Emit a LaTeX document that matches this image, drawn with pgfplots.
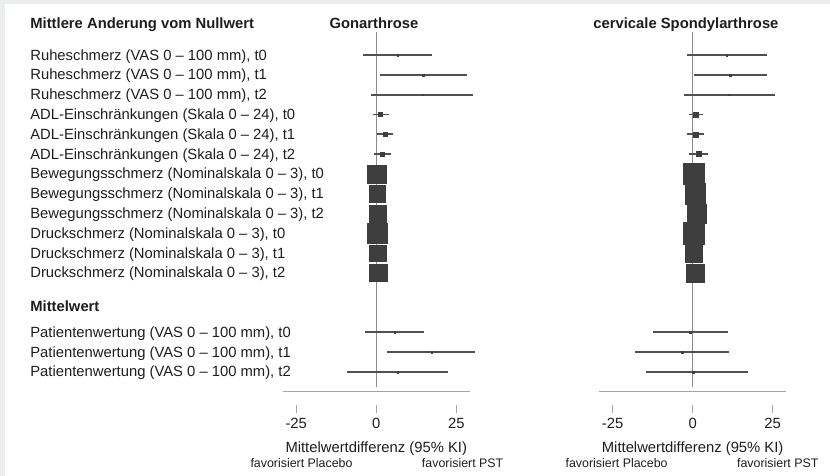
\documentclass[border=0pt]{standalone}
\usepackage{pgfplots}
\usepackage{pgfplotstable}
\pgfplotsset{compat=1.18}
\usepackage{fontspec}
\setmainfont{Liberation Sans}
\definecolor{bg}{RGB}{236,238,238}
\definecolor{txt}{RGB}{30,30,30}
\definecolor{boxc}{RGB}{62,62,62}
\definecolor{ci}{RGB}{80,80,80}
\definecolor{zl}{RGB}{140,140,140}
\definecolor{axl}{RGB}{165,165,165}

% y = -row, m = mean, lo/hi = 95% CI, s = half box size (pt)
\pgfplotstableread{
y    m     lo     hi    s
-1   6.7   -4.1   17.5  0.8
-2   14.7  1.1    28.5  0.8
-3   14.5  -1.5   30.1  0.8
-4   1.1   -1.1   4.1   2.0
-5   2.8   0.2    5.1   2.0
-6   2.0   -0.6   4.6   2.0
-7   0.15  -1.0   1.3   9.2
-8   0.36  -0.8   1.5   8.2
-9   0.5   -0.6   1.6   8.4
-10  0.3   -1.0   1.6   10.1
-11  0.47  -0.7   1.6   8.2
-12  0.6   -0.6   1.8   8.6
-15  5.8   -3.5   14.9  0.8
-16  17.3  3.4    30.8  0.8
-17  6.7   -9.1   22.5  0.8
}\lefttab
\pgfplotstableread{
y    m     lo     hi    s
-1   10.6  -1.9   23.1  0.8
-2   11.7  0.4    23.1  0.8
-3   11.5  -2.6   25.7  0.8
-4   0.9   -1.0   3.1   2.5
-5   0.8   -1.9   3.6   2.5
-6   1.9   -1.0   4.9   2.5
-7   0.36  -1.0   1.7   10.5
-8   0.73  -0.6   2.1   10.3
-9   1.15  -0.2   2.5   9.4
-10  0.36  -1.0   1.7   10.8
-11  0.31  -1.0   1.6   8.8
-12  0.89  -0.4   2.2   9.1
-15  -0.7  -12.4  10.9  0.8
-16  -3.2  -18.0  11.5  0.8
-17  0.2   -14.6  17.4  0.8
}\righttab

\newcommand{\mainfs}{\fontsize{14.8}{17}\selectfont}
\newcommand{\smallfs}{\fontsize{12.4}{14}\selectfont}

\pgfplotsset{
  forest/.style={
    scale only axis, width=187.52pt, height=376.2pt,
    xmin=-29.3, xmax=29.3, ymin=-18, ymax=1,
    anchor=south west, clip=false,
    axis line style={draw=none}, major tick style={draw=none},
    ytick=\empty, xtick={-25,0,25}, xticklabels={-25,0,25},
    xticklabel style={anchor=base, yshift=-36.3pt, font=\mainfs, text=txt},
  },
  zline/.style={draw=zl, line width=1pt},
  aline/.style={draw=axl, line width=1pt},
  tline/.style={draw=axl, line width=0.9pt},
  cibars/.style={draw=none, error bars/.cd, x dir=both, x explicit, error mark=none,
    error bar style={draw=ci, line width=1.9pt}},
  boxes/.style={scatter, only marks, mark=square*,
    scatter/use mapped color={draw=boxc, fill=boxc},
    visualization depends on={\thisrow{s} \as \msize},
    scatter/@pre marker code/.append style={/tikz/mark size=\msize, /tikz/line width=0.4pt}},
}

\begin{document}
\begin{tikzpicture}
\useasboundingbox (0,0) rectangle (830pt,-476pt);
\fill[bg] (0,0) rectangle (830pt,-476pt);
\fill[white] (5pt,-4pt) rectangle (830pt,-476pt);

% ---------- left panel: Gonarthrose ----------
\begin{axis}[forest, at={(282.5pt,-391.7pt)}]
\addplot[zline] coordinates {(0,0.16) (0,-17.75)};
\addplot[aline] coordinates {(-29.3,-18) (29.3,-18)};
\addplot[tline] coordinates {(-25,-18.68) (-25,-19.07)};
\addplot[tline] coordinates {(0,-18.68) (0,-19.07)};
\addplot[tline] coordinates {(25,-18.68) (25,-19.07)};
\addplot[cibars] table[x=m, y=y, x error plus expr={\thisrow{hi}-\thisrow{m}}, x error minus expr={\thisrow{m}-\thisrow{lo}}] {\lefttab};
\addplot[boxes] table[x=m, y=y] {\lefttab};

\node[anchor=base, font=\mainfs\bfseries, text=txt] at (axis cs:-0.7,0.35) {Gonarthrose};
\node[anchor=base west, font=\mainfs\bfseries, text=txt] at (axis cs:-109.2,0.35) {Mittlere Anderung vom Nullwert};
\node[anchor=base west, font=\mainfs\bfseries, text=txt] at (axis cs:-109.2,-13.96) {Mittelwert};
\begin{scope}[every node/.style={anchor=base west, font=\mainfs, text=txt}]
\node at (axis cs:-109.2,-1.25) {Ruheschmerz (VAS 0 – 100 mm), t0};
\node at (axis cs:-109.2,-2.25) {Ruheschmerz (VAS 0 – 100 mm), t1};
\node at (axis cs:-109.2,-3.25) {Ruheschmerz (VAS 0 – 100 mm), t2};
\node at (axis cs:-109.2,-4.25) {ADL-Einschränkungen (Skala 0 – 24), t0};
\node at (axis cs:-109.2,-5.25) {ADL-Einschränkungen (Skala 0 – 24), t1};
\node at (axis cs:-109.2,-6.25) {ADL-Einschränkungen (Skala 0 – 24), t2};
\node at (axis cs:-109.2,-7.25) {Bewegungsschmerz (Nominalskala 0 – 3), t0};
\node at (axis cs:-109.2,-8.25) {Bewegungsschmerz (Nominalskala 0 – 3), t1};
\node at (axis cs:-109.2,-9.25) {Bewegungsschmerz (Nominalskala 0 – 3), t2};
\node at (axis cs:-109.2,-10.25) {Druckschmerz (Nominalskala 0 – 3), t0};
\node at (axis cs:-109.2,-11.25) {Druckschmerz (Nominalskala 0 – 3), t1};
\node at (axis cs:-109.2,-12.25) {Druckschmerz (Nominalskala 0 – 3), t2};
\node at (axis cs:-109.2,-15.25) {Patientenwertung (VAS 0 – 100 mm), t0};
\node at (axis cs:-109.2,-16.25) {Patientenwertung (VAS 0 – 100 mm), t1};
\node at (axis cs:-109.2,-17.25) {Patientenwertung (VAS 0 – 100 mm), t2};
\end{scope}
\node[anchor=base, font=\mainfs, text=txt] at (axis cs:0,-21.05) {Mittelwertdifferenz (95\% KI)};
\node[anchor=base west, font=\smallfs, text=txt] at (axis cs:-40.4,-21.81) {favorisiert Placebo};
\node[anchor=base east, font=\smallfs, text=txt] at (axis cs:40.8,-21.81) {favorisiert PST};
\end{axis}

% ---------- right panel: cervicale Spondylarthrose ----------
\begin{axis}[forest, at={(598.9pt,-391.7pt)}]
\addplot[zline] coordinates {(0,0.16) (0,-17.75)};
\addplot[aline] coordinates {(-29.3,-18) (29.3,-18)};
\addplot[tline] coordinates {(-25,-18.68) (-25,-19.07)};
\addplot[tline] coordinates {(0,-18.68) (0,-19.07)};
\addplot[tline] coordinates {(25,-18.68) (25,-19.07)};
\addplot[cibars] table[x=m, y=y, x error plus expr={\thisrow{hi}-\thisrow{m}}, x error minus expr={\thisrow{m}-\thisrow{lo}}] {\righttab};
\addplot[boxes] table[x=m, y=y] {\righttab};

\node[anchor=base, font=\mainfs\bfseries, text=txt] at (axis cs:-2.1,0.35) {cervicale Spondylarthrose};
\node[anchor=base, font=\mainfs, text=txt] at (axis cs:0,-21.05) {Mittelwertdifferenz (95\% KI)};
\node[anchor=base west, font=\smallfs, text=txt] at (axis cs:-40.8,-21.81) {favorisiert Placebo};
\node[anchor=base east, font=\smallfs, text=txt] at (axis cs:40.4,-21.81) {favorisiert PST};
\end{axis}
\end{tikzpicture}
\end{document}
